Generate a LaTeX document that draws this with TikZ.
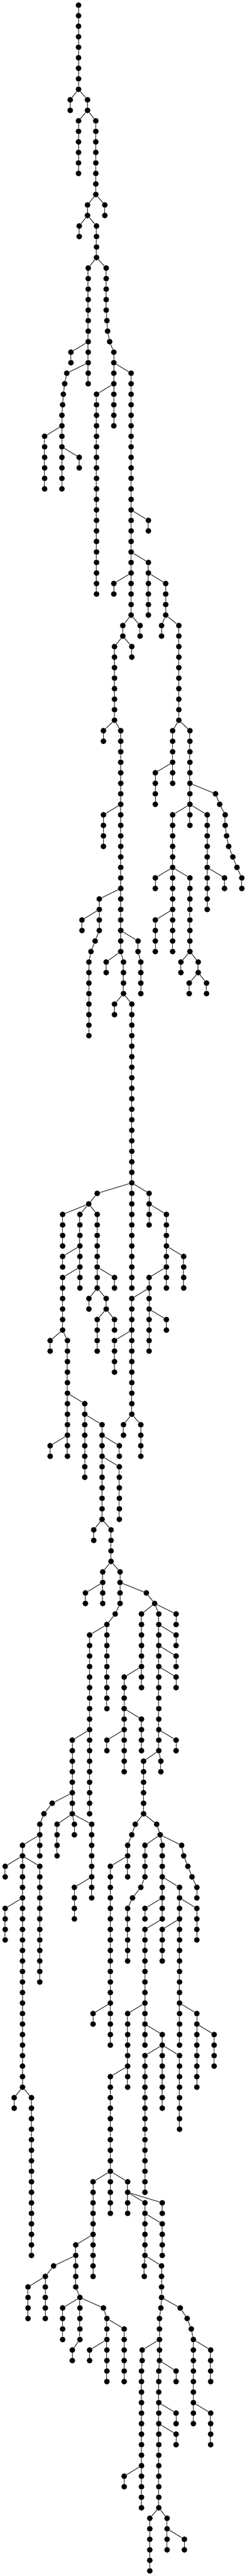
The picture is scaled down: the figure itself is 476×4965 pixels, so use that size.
\documentclass[tikz,border=0pt]{standalone}
\usepackage{tikz}
\tikzstyle{vertex} = [circle, fill=black, inner sep=0pt, minimum size=11pt]
\tikzstyle{link} = [line width=1pt, draw=black]
\newcommand{\chain}[4]{%
  \foreach \lvl [remember=\lvl as \prevlvl (initially 0)] in {#3,...,#4} {
    \node (n#2_\lvl) [vertex] at (#2,\lvl) {};
    \ifnum\lvl=#3
      \draw [link] (n#1) -- (n#2_\lvl);
    \else
      \draw [link] (n#2_\prevlvl) -- (n#2_\lvl);
    \fi
  }
}
\begin{document}
\begin{tikzpicture}[x=0.33333pt, y=-20.2664pt]
        \useasboundingbox (0pt,10pt) rectangle (476pt,-4955pt);

        \node (n454_0) [vertex] at (454,0) {};
        \chain{454_0}{454}{1}{8}
        \chain{454_8}{406}{9}{10}
        \chain{454_8}{506}{9}{10}
        \chain{506_10}{454}{11}{16}
        \chain{506_10}{554}{11}{18}
        \chain{554_18}{506}{19}{20}
        \chain{554_18}{606}{19}{20}
        \chain{506_20}{458}{21}{22}
        \chain{506_20}{558}{21}{24}
        \chain{558_24}{510}{25}{36}
        \chain{510_32}{410}{33}{34}
        \chain{510_34}{386}{35}{35}
        \chain{386_35}{374}{36}{36}
        \chain{374_36}{366}{37}{37}
        \chain{366_37}{362}{38}{38}
        \chain{362_38}{358}{39}{46}
        \chain{358_40}{258}{41}{46}
        \chain{358_42}{458}{43}{44}
        \chain{558_24}{614}{25}{29}
        \chain{614_29}{618}{30}{30}
        \chain{618_30}{622}{31}{31}
        \chain{622_31}{634}{32}{32}
        \chain{634_32}{658}{33}{40}
        \chain{658_34}{758}{35}{58}
        \chain{658_36}{558}{37}{56}
        \chain{758_48}{858}{49}{50}
        \chain{758_52}{858}{53}{58}
        \chain{858_54}{958}{55}{58}
        \chain{958_58}{934}{59}{60}
        \chain{958_58}{1034}{59}{68}
        \chain{758_54}{658}{55}{56}
        \chain{758_58}{710}{59}{60}
        \chain{758_58}{810}{59}{60}
        \chain{710_60}{662}{61}{68}
        \chain{710_60}{762}{61}{62}

        \chain{662_68}{598}{69}{70}
        \chain{662_68}{698}{69}{90}
        \chain{698_76}{598}{77}{80}
        \chain{1034_68}{998}{69}{74}
        \chain{998_72}{898}{73}{76}
        \chain{1034_68}{1098}{69}{78}
        \chain{1098_74}{1246}{75}{75}
        \chain{1246_75}{1270}{76}{76}
        \chain{1270_76}{1302}{77}{78}
        \chain{1302_78}{1310}{79}{79}
        \chain{1310_79}{1322}{80}{80}
        \chain{1322_80}{1346}{81}{81}
        \chain{1346_81}{1370}{82}{82}
        \chain{1370_82}{1398}{83}{84}
        \chain{1098_76}{998}{77}{90}
        \chain{1098_76}{1198}{77}{86}
        \chain{998_82}{898}{83}{84}
        \chain{998_82}{1098}{83}{90}
        \chain{998_86}{898}{87}{90}
        \chain{1198_82}{1298}{83}{84}
        \chain{1098_90}{1046}{91}{92}
        \chain{1098_90}{1146}{91}{92}
        \chain{1146_92}{1094}{93}{94}
        \chain{1146_92}{1194}{93}{94}
        \chain{698_84}{574}{85}{88}
        \chain{574_86}{474}{87}{88}
        \chain{574_88}{550}{89}{89}
        \chain{550_89}{526}{90}{90}
        \chain{526_90}{514}{91}{98}
        \chain{698_88}{798}{89}{90}
        \chain{798_90}{814}{91}{94}
        \chain{698_90}{614}{91}{92}
        \chain{698_90}{714}{91}{94}
        \chain{714_94}{662}{95}{96}
        \chain{714_94}{762}{95}{112}

        \chain{762_112}{562}{113}{113}
        \chain{762_112}{762}{113}{122}
        \chain{762_112}{862}{113}{116}
        \chain{562_113}{513}{114}{114}
        \chain{513_114}{362}{115}{118}
        \chain{513_114}{462}{115}{122}
        \chain{513_114}{562}{115}{122}
        \chain{462_118}{362}{119}{120}
        \chain{462_120}{362}{121}{126}
        \chain{562_120}{662}{121}{122}
        \chain{562_122}{514}{123}{124}
        \chain{562_122}{614}{123}{124}
        \chain{614_124}{562}{125}{128}
        \chain{614_124}{662}{125}{126}
        \chain{862_114}{962}{115}{122}
        \chain{962_118}{1062}{119}{122}
        \chain{962_120}{862}{121}{128}
        \chain{862_122}{762}{123}{134}
        \chain{862_124}{962}{125}{126}
        \chain{762_126}{662}{127}{130}
        \chain{762_134}{714}{135}{136}
        \chain{762_134}{814}{135}{138}
        \chain{362_126}{290}{127}{128}
        \chain{362_126}{390}{127}{138}
        \chain{390_132}{490}{133}{140}
        \chain{390_136}{290}{137}{138}
        \chain{490_134}{590}{135}{144}
        \chain{590_136}{690}{137}{138}
        \chain{590_138}{690}{139}{144}
        \chain{590_144}{542}{145}{146}
        \chain{590_144}{642}{145}{148}

        \chain{642_148}{594}{149}{152}
        \chain{594_150}{494}{151}{152}
        \chain{642_148}{694}{149}{152}
        \chain{694_152}{666}{153}{153}
        \chain{666_153}{618}{154}{162}
        \chain{618_154}{518}{155}{172}
        \chain{694_150}{846}{151}{151}
        \chain{846_151}{894}{152}{152}
        \chain{894_152}{818}{153}{160}
        \chain{894_152}{918}{153}{166}
        \chain{894_152}{1018}{153}{154}
        \chain{818_158}{718}{159}{168}
        \chain{718_162}{818}{163}{166}
        \chain{918_154}{1018}{155}{156}
        \chain{918_156}{1018}{157}{158}
        \chain{918_158}{1018}{159}{160}
        \chain{918_164}{1018}{165}{166}
        \chain{718_164}{618}{165}{166}
        \chain{518_164}{418}{165}{172}
        \chain{418_170}{302}{171}{171}
        \chain{302_171}{254}{172}{172}
        \chain{254_172}{230}{173}{176}
        \chain{230_174}{130}{175}{198}
        \chain{130_176}{30}{177}{178}
        \chain{130_176}{230}{177}{188}
        \chain{130_180}{30}{181}{184}
        \chain{130_198}{82}{199}{200}
        \chain{130_198}{182}{199}{214}
        \chain{418_172}{330}{173}{176}
        \chain{418_172}{430}{173}{174}
        \chain{418_172}{530}{173}{180}
        \chain{530_178}{430}{179}{182}

        \chain{918_166}{830}{167}{172}
        \chain{918_166}{930}{167}{168}
        \chain{830_172}{782}{173}{173}
        \chain{782_173}{762}{174}{174}
        \chain{762_174}{738}{175}{178}
        \chain{738_176}{638}{177}{194}
        \chain{638_190}{538}{191}{192}
        \chain{830_172}{906}{173}{173}
        \chain{906_173}{926}{174}{174}
        \chain{926_174}{838}{175}{178}
        \chain{838_178}{814}{179}{179}
        \chain{814_179}{766}{180}{180}
        \chain{766_180}{738}{181}{186}
        \chain{926_174}{938}{175}{182}
        \chain{938_178}{1038}{179}{194}
        \chain{938_180}{838}{181}{182}
        \chain{938_182}{838}{183}{194}
        \chain{838_190}{738}{191}{198}
        \chain{738_196}{638}{197}{210}
        \chain{838_192}{938}{193}{194}
        \chain{938_194}{838}{195}{208}
        \chain{938_194}{938}{195}{200}
        \chain{938_194}{1038}{195}{202}
        \chain{1038_180}{1138}{181}{184}
        \chain{1038_182}{938}{183}{186}
        \chain{1038_190}{1138}{191}{198}
        \chain{1138_192}{1238}{193}{196}
        \chain{926_174}{1050}{175}{175}
        \chain{1050_175}{1062}{176}{176}
        \chain{1062_176}{1086}{177}{177}
        \chain{1086_177}{1110}{178}{178}
        \chain{1110_178}{1138}{179}{180}

        \chain{638_206}{538}{207}{216}
        \chain{638_206}{738}{207}{210}
        \chain{738_208}{838}{209}{214}
        \chain{738_208}{938}{209}{210}
        \chain{838_210}{938}{211}{214}
        \chain{838_214}{834}{215}{216}
        \chain{838_214}{934}{215}{218}
        \chain{934_218}{930}{219}{219}
        \chain{930_219}{922}{220}{224}
        \chain{922_222}{822}{223}{224}
        \chain{822_224}{818}{225}{238}
        \chain{818_234}{718}{235}{236}
        \chain{922_224}{918}{225}{238}
        \chain{922_224}{1018}{225}{226}
        \chain{918_228}{1018}{229}{230}
        \chain{918_230}{1018}{231}{232}
        \chain{918_238}{866}{239}{244}
        \chain{918_238}{966}{239}{242}
        \chain{966_240}{1066}{241}{242}
        \chain{934_218}{1042}{219}{219}
        \chain{1042_219}{1082}{220}{220}
        \chain{1082_220}{1106}{221}{221}
        \chain{1106_221}{1118}{222}{230}
        \chain{1118_222}{1218}{223}{226}
        \chain{1118_228}{1218}{229}{232}
        \chain{538_212}{438}{213}{217}
        \chain{438_214}{310}{215}{215}
        \chain{310_215}{262}{216}{220}
        \chain{262_216}{162}{217}{220}
        \chain{438_217}{462}{218}{222}
        \chain{462_218}{362}{219}{222}
        \chain{462_222}{418}{223}{224}
        \chain{462_218}{598}{219}{219}
        \chain{598_219}{618}{220}{226}
        \chain{618_220}{718}{221}{226}
        \chain{618_222}{518}{223}{224}
\end{tikzpicture}
\end{document}
